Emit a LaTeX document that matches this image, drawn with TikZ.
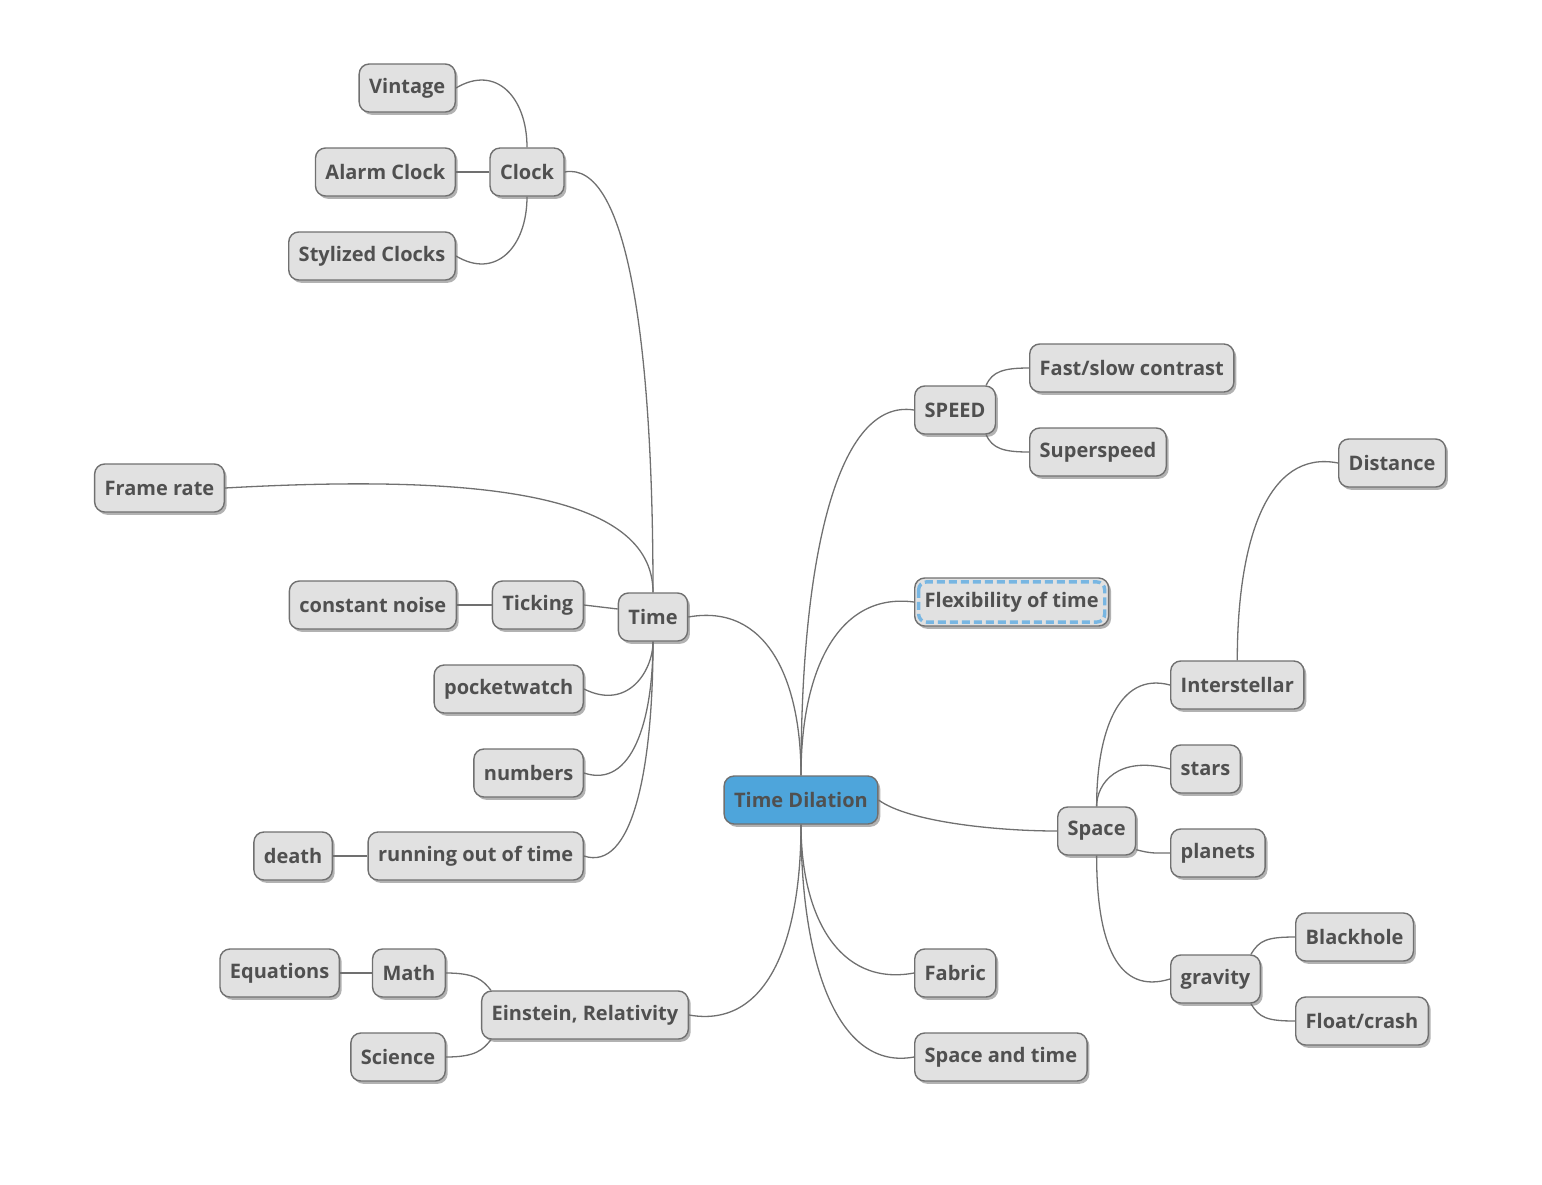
\documentclass[tikz,border=0pt]{standalone}
\usepackage{fontspec}
\setmainfont{Open Sans}
\usetikzlibrary{shadows}
\definecolor{ink}{HTML}{505050}
\definecolor{edge}{HTML}{707070}
\definecolor{topicfill}{HTML}{E1E1E1}
\definecolor{rootfill}{HTML}{4EA5DB}
\definecolor{flexdash}{HTML}{78B6E2}

\begin{document}
\begin{tikzpicture}[x=0.5pt, y=-0.5pt, every node/.style={font=\bfseries\fontsize{10}{12}\selectfont, text=ink}, topic/.style={draw=edge, line width=0.7pt, rounded corners=5pt, fill=topicfill, minimum height=24pt, inner xsep=5pt, drop shadow={shadow xshift=1.2pt, shadow yshift=-1.4pt, fill=black, opacity=0.3}}, root/.style={topic, fill=rootfill}, link/.style={draw=edge, line width=0.65pt}]
\useasboundingbox (0,0) rectangle (1542,1184);
\node[root] (dilation) at (801,800) {Time Dilation};
\node[topic] (time) at (653,617) {Time};
\node[topic] (clock) at (527,172) {Clock};
\node[topic,anchor=east] (vintage) at (456,88) {Vintage};
\node[topic,anchor=east] (alarm) at (456,172) {Alarm Clock};
\node[topic,anchor=east] (stylized) at (456,256) {Stylized Clocks};
\node[topic,anchor=east] (framerate) at (225,488) {Frame rate};
\node[topic,anchor=east] (ticking) at (584,605) {Ticking};
\node[topic,anchor=east] (noise) at (457,605) {constant noise};
\node[topic,anchor=east] (pocketwatch) at (584,689) {pocketwatch};
\node[topic,anchor=east] (numbers) at (584,773) {numbers};
\node[topic,anchor=east] (running) at (584,856) {running out of time};
\node[topic,anchor=east] (death) at (333,856) {death};
\node[topic] (einstein) at (585,1015) {Einstein, Relativity};
\node[topic,anchor=east] (math) at (446,973) {Math};
\node[topic,anchor=east] (equations) at (340,973) {Equations};
\node[topic,anchor=east] (science) at (446,1057) {Science};
\node[topic,anchor=west] (speed) at (914,410) {SPEED};
\node[topic,anchor=west] (fastslow) at (1029,368) {Fast/slow contrast};
\node[topic,anchor=west] (superspeed) at (1029,452) {Superspeed};
\node[topic,anchor=west] (flex) at (914,602) {Flexibility of time};
\node[topic,anchor=west] (space) at (1057,831) {Space};
\node[topic,anchor=west] (interstellar) at (1170,685) {Interstellar};
\node[topic,anchor=west] (distance) at (1338,463) {Distance};
\node[topic,anchor=west] (stars) at (1170,769) {stars};
\node[topic,anchor=west] (planets) at (1170,853) {planets};
\node[topic,anchor=west] (gravity) at (1170,979) {gravity};
\node[topic,anchor=west] (blackhole) at (1295,937) {Blackhole};
\node[topic,anchor=west] (floatcrash) at (1295,1021) {Float/crash};
\node[topic,anchor=west] (fabric) at (914,973) {Fabric};
\node[topic,anchor=west] (spacetime) at (914,1057) {Space and time};
\draw[flexdash, line width=1.7pt, dash pattern=on 4pt off 2pt, rounded corners=4pt] ([shift={(2.3pt,-2.3pt)}]flex.north west) rectangle ([shift={(-2.3pt,2.3pt)}]flex.south east);
\draw[link] (dilation.north) .. controls +(0,-220) and +(-76,-12) .. (speed.west);
\draw[link] (dilation.north) .. controls +(0,-105) and +(-76,-10) .. (flex.west);
\draw[link] (dilation.east) .. controls +(30,22) and +(-60,0) .. (space.west);
\draw[link] (dilation.south) .. controls +(0,90) and +(-76,14) .. (fabric.west);
\draw[link] (dilation.south) .. controls +(0,140) and +(-76,14) .. (spacetime.west);
\draw[link] (dilation.north) .. controls +(0,-95) and +(79,-14) .. (time.east);
\draw[link] (dilation.south) .. controls +(0,115) and +(79,14) .. (einstein.east);
\draw[link] (time.north) .. controls +(0,-253) and +(62,-12) .. (clock.east);
\draw[link] (time.north) .. controls +(0,-100) and +(250,-14) .. (framerate.east);
\draw[link] ([yshift=4pt]time.west) -- (ticking.east);
\draw[link] (time.south) .. controls +(0,29) and +(44,22) .. (pocketwatch.east);
\draw[link] (time.south) .. controls +(0,79) and +(48,16) .. (numbers.east);
\draw[link] (time.south) .. controls +(0,129) and +(48,16) .. (running.east);
\draw[link] (ticking) -- (noise);
\draw[link] (running) -- (death);
\draw[link] (clock.north) .. controls +(0,-50) and +(40,-24) .. (vintage.east);
\draw[link] (clock) -- (alarm);
\draw[link] (clock.south) .. controls +(0,50) and +(40,24) .. (stylized.east);
\draw[link] ([xshift=5pt]einstein.north west) .. controls +(-8,-10) and +(30,0) .. (math.east);
\draw[link] ([xshift=5pt]einstein.south west) .. controls +(-8,10) and +(30,0) .. (science.east);
\draw[link] (math) -- (equations);
\draw[link] ([xshift=-5pt]speed.north east) .. controls +(6,-14) and +(-25,0) .. (fastslow.west);
\draw[link] ([xshift=-5pt]speed.south east) .. controls +(6,14) and +(-25,0) .. (superspeed.west);
\draw[link] (space.north) .. controls +(0,-73) and +(-52,-14) .. (interstellar.west);
\draw[link] (space.north) .. controls +(0,-23) and +(-52,-14) .. (stars.west);
\draw[link] ([yshift=3pt]space.south east) .. controls +(15,4) and +(-15,0) .. (planets.west);
\draw[link] (space.south) .. controls +(0,89) and +(-52,16) .. (gravity.west);
\draw[link] (interstellar.north) .. controls +(0,-119) and +(-71,-14) .. (distance.west);
\draw[link] ([xshift=-5pt]gravity.north east) .. controls +(8,-14) and +(-28,0) .. (blackhole.west);
\draw[link] ([xshift=-5pt]gravity.south east) .. controls +(8,14) and +(-28,0) .. (floatcrash.west);
\end{tikzpicture}
\end{document}
